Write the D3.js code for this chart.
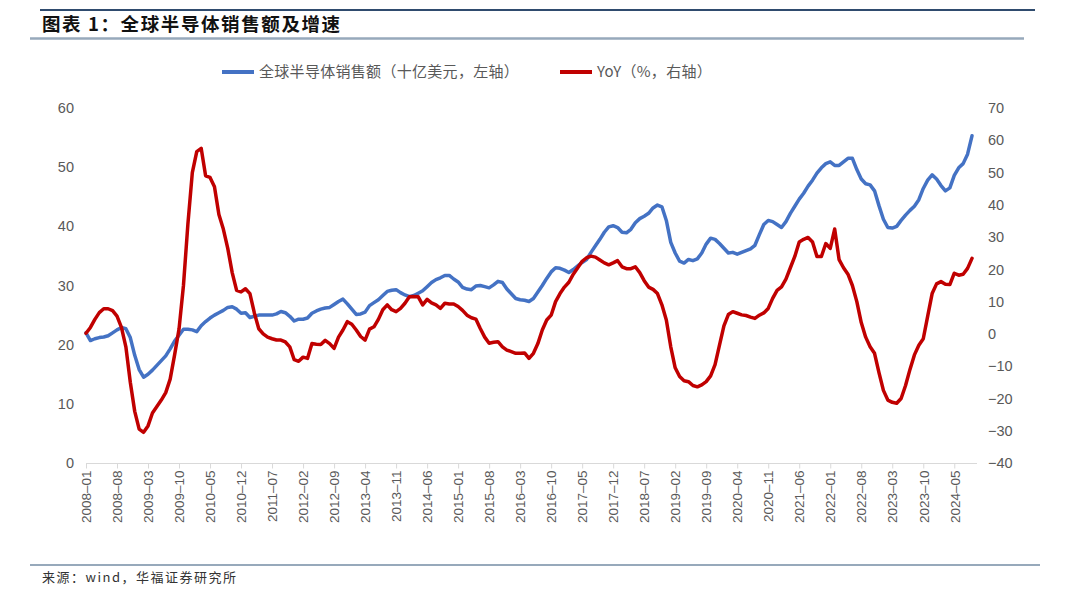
<!DOCTYPE html>
<html>
<head>
<meta charset="utf-8">
<script src="https://cdn.jsdelivr.net/npm/d3@7"></script>
<style>
  body { margin: 0; background: #fff; }
  svg { display: block; }
</style>
</head>
<body>
<svg id="chart" width="1080" height="598"></svg>
<script>
// monthly data, 2008-01 .. 2024-09
const months = d3.timeMonths(new Date(2008, 0, 1), new Date(2024, 9, 1)).map(d3.timeFormat('%Y-%m'));

// global semiconductor sales, billion USD (left axis)
const sales = [
  22.0, 20.7, 21.0, 21.2, 21.3, 21.5, 22.0, 22.5, 22.9, 22.7, 21.2, 18.2,
  15.8, 14.5, 15.0, 15.7, 16.5, 17.3, 18.1, 19.3, 20.6, 21.6, 22.6, 22.6,
  22.5, 22.2, 23.2, 23.9, 24.5, 25.0, 25.4, 25.8, 26.3, 26.4, 26.0, 25.3,
  25.4, 24.6, 24.8, 25.0, 25.0, 25.0, 25.0, 25.2, 25.6, 25.4, 24.8, 24.0,
  24.3, 24.3, 24.5, 25.3, 25.7, 26.0, 26.2, 26.3, 26.8, 27.3, 27.7, 26.9,
  26.0, 25.1, 25.2, 25.5, 26.6, 27.1, 27.6, 28.3, 29.0, 29.2, 29.3, 28.8,
  28.4, 28.1, 28.3, 28.7, 29.1, 29.8, 30.5, 31.0, 31.3, 31.7, 31.7, 31.1,
  30.6, 29.7, 29.4, 29.3, 29.9, 30.0, 29.8, 29.6, 30.1, 30.7, 30.5, 29.4,
  28.6, 27.8, 27.6, 27.5, 27.3, 27.8, 28.9, 30.0, 31.2, 32.3, 33.0, 32.9,
  32.6, 32.2, 32.7, 33.3, 33.9, 34.4, 35.6, 36.7, 37.8, 39.0, 39.9, 40.1,
  39.8, 39.0, 38.9, 39.5, 40.6, 41.3, 41.7, 42.2, 43.1, 43.6, 43.3, 41.0,
  37.3, 35.5, 34.1, 33.8, 34.4, 34.2, 34.5, 35.5, 37.0, 38.0, 37.8, 37.1,
  36.3, 35.5, 35.6, 35.3, 35.6, 35.9, 36.2, 36.8, 38.6, 40.3, 41.0, 40.8,
  40.3, 39.8, 40.8, 42.2, 43.4, 44.6, 45.6, 46.8, 47.8, 49.0, 49.9, 50.6,
  50.9, 50.3, 50.3, 50.9, 51.5, 51.5, 49.6, 48.0, 47.2, 47.0, 46.0, 43.5,
  41.2, 39.8, 39.7, 40.0, 41.0, 41.9, 42.7, 43.4, 44.5, 46.4, 47.8, 48.7,
  48.0, 46.9, 46.0, 46.5, 48.6, 49.9, 50.6, 52.2, 55.3
];

// year-over-year growth, % (right axis)
const yoy = [
    0.2,   2.0,   4.5,   6.6,   7.8,   7.8,   7.2,   5.5,   2.0,  -4.0, -15.0, -24.0,
  -29.5, -30.5, -28.5, -24.5, -22.5, -20.5, -18.2, -14.0,  -6.5,   1.5,  15.0,  34.0,
   50.0,  56.5,  57.5,  49.0,  48.5,  45.6,  37.0,  32.5,  26.5,  19.0,  13.5,  13.0,
   14.0,  12.5,   6.5,   1.6,   0.0,  -1.0,  -1.5,  -1.9,  -1.9,  -2.5,  -4.0,  -8.0,
   -8.5,  -7.2,  -7.6,  -3.0,  -3.2,  -3.3,  -2.0,  -3.0,  -4.5,  -1.0,   1.2,   3.8,
    3.0,   1.2,  -0.8,  -1.9,   1.5,   2.2,   4.5,   7.5,   9.0,   7.5,   6.9,   7.9,
    9.5,  11.5,  11.6,  11.5,   9.0,  10.7,   9.6,   9.0,   7.9,   9.5,   9.3,   9.3,
    8.5,   7.3,   5.8,   5.0,   4.6,   1.7,  -1.0,  -2.9,  -2.6,  -2.4,  -4.0,  -5.0,
   -5.5,  -6.0,  -6.0,  -5.9,  -7.6,  -6.0,  -3.0,   1.2,   4.3,   5.8,  10.0,  12.5,
   14.5,  16.0,  18.5,  20.5,  22.5,  23.6,  24.1,  23.8,  22.9,  22.0,  21.4,  22.0,
   22.7,  20.8,  20.2,  20.2,  20.8,  19.0,  16.5,  14.5,  13.8,  12.5,   9.0,   4.3,
   -4.0, -10.5, -13.2, -14.5, -14.8, -16.0, -16.4, -15.8, -14.8, -13.0,  -9.5,  -3.5,
    2.5,   6.0,   6.9,   6.4,   5.9,   5.7,   5.2,   4.8,   5.8,   6.5,   7.9,  11.0,
   13.5,  14.6,  17.0,  20.5,  24.0,  28.5,  29.3,  29.9,  28.5,  24.0,  24.0,  28.0,
   26.5,  32.5,  23.0,  20.5,  18.5,  15.0,  10.0,   3.5,  -1.0,  -4.0,  -6.0, -12.0,
  -17.5, -20.5, -21.2, -21.5, -20.0, -16.0, -11.0,  -6.5,  -3.5,  -1.5,   5.5,  12.5,
   15.5,  16.2,  15.4,  15.3,  18.8,  18.2,  18.5,  20.3,  23.4
];

const leftTicks = [0, 10, 20, 30, 40, 50, 60];
const rightTicks = [-40, -30, -20, -10, 0, 10, 20, 30, 40, 50, 60, 70];
const xTickLabels = months.filter((m, i) => i % 7 === 0);

const blue = '#4472c4';
const red = '#c00000';
const grey = '#595959';
const numFont = '"Liberation Sans", Arial, sans-serif';
const cjkFont = '"Noto Sans CJK SC", sans-serif';

const svg = d3.select('#chart');

// header rules and title
svg.append('line').attr('x1', 40).attr('x2', 1035).attr('y1', 10).attr('y2', 10)
  .attr('stroke', '#2f4b6e').attr('stroke-width', 2);
svg.append('line').attr('x1', 30).attr('x2', 1024).attr('y1', 38.5).attr('y2', 38.5)
  .attr('stroke', '#97a9bb').attr('stroke-width', 2.5);
svg.append('text').attr('x', 42).attr('y', 31)
  .attr('font-family', cjkFont).attr('font-weight', 'bold').attr('font-size', 18.5)
  .attr('letter-spacing', 1.6)
  .attr('fill', '#111').text('图表 1：全球半导体销售额及增速');

// scales
const x = d3.scalePoint().domain(months).range([86, 972]);
const yL = d3.scaleLinear().domain([0, 60]).range([463, 108]);
const yR = d3.scaleLinear().domain([-40, 70]).range([463, 108]);

// x axis
svg.append('line').attr('x1', 86).attr('x2', 977).attr('y1', 463.5).attr('y2', 463.5)
  .attr('stroke', '#d9d9d9').attr('stroke-width', 1);

const xAxis = svg.append('g').attr('transform', 'translate(0,463.5)')
  .call(d3.axisBottom(x).tickValues(xTickLabels).tickSize(5).tickPadding(6));
xAxis.select('.domain').remove();
xAxis.selectAll('.tick line').attr('stroke', '#d9d9d9');
xAxis.selectAll('.tick text')
  .attr('font-family', numFont).attr('font-size', 13.5).attr('fill', grey)
  .attr('text-anchor', 'end').attr('transform', 'rotate(-90)')
  .attr('x', -7).attr('y', 0).attr('dy', '0.35em')
  .text(d => d.replace('-', '\u2013'));

// left axis
const leftAxis = svg.append('g').attr('transform', 'translate(74,0)')
  .call(d3.axisLeft(yL).tickValues(leftTicks).tickSize(0).tickPadding(0));
leftAxis.select('.domain').remove();
leftAxis.selectAll('text').attr('font-family', numFont).attr('font-size', 14.5).attr('fill', grey);

// right axis
const rightAxis = svg.append('g').attr('transform', 'translate(988,0)')
  .call(d3.axisRight(yR).tickValues(rightTicks).tickSize(0).tickPadding(0)
    .tickFormat(d => d < 0 ? '\u2212' + Math.abs(d) : d));
rightAxis.select('.domain').remove();
rightAxis.selectAll('text').attr('font-family', numFont).attr('font-size', 14.5).attr('fill', grey);

// lines
const salesLine = d3.line().x((d, i) => x(months[i])).y(d => yL(d));
const yoyLine = d3.line().x((d, i) => x(months[i])).y(d => yR(d));

svg.append('path').datum(sales).attr('d', salesLine)
  .attr('fill', 'none').attr('stroke', blue).attr('stroke-width', 3.5)
  .attr('stroke-linejoin', 'round').attr('stroke-linecap', 'round');
svg.append('path').datum(yoy).attr('d', yoyLine)
  .attr('fill', 'none').attr('stroke', red).attr('stroke-width', 3.5)
  .attr('stroke-linejoin', 'round').attr('stroke-linecap', 'round');

// legend
const legend = [
  { label: '全球半导体销售额（十亿美元，左轴）', color: blue, x: 222 },
  { label: 'YoY（%，右轴）', color: red, x: 560 }
];
legend.forEach(l => {
  svg.append('line').attr('x1', l.x).attr('x2', l.x + 32).attr('y1', 72).attr('y2', 72)
    .attr('stroke', l.color).attr('stroke-width', 4);
  svg.append('text').attr('x', l.x + 37).attr('y', 72).attr('dy', '0.35em')
    .attr('font-family', cjkFont).attr('font-size', 15).attr('letter-spacing', 0.3)
    .attr('fill', grey).text(l.label);
});

// source
svg.append('line').attr('x1', 30).attr('x2', 1040).attr('y1', 565).attr('y2', 565)
  .attr('stroke', '#97a9bb').attr('stroke-width', 2);
svg.append('text').attr('x', 42).attr('y', 582)
  .attr('font-family', cjkFont).attr('font-size', 13).attr('letter-spacing', 1.5)
  .attr('fill', '#333').text('来源：wind，华福证券研究所');
</script>
</body>
</html>
